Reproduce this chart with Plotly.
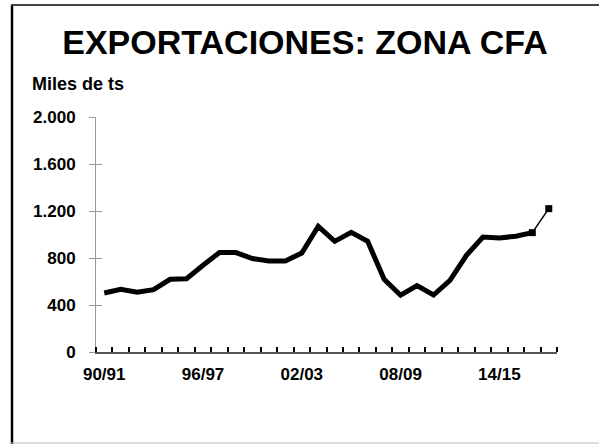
import plotly.graph_objects as go

seasons = ["90/91", "91/92", "92/93", "93/94", "94/95", "95/96", "96/97", "97/98",
           "98/99", "99/00", "00/01", "01/02", "02/03", "03/04", "04/05", "05/06",
           "06/07", "07/08", "08/09", "09/10", "10/11", "11/12", "12/13", "13/14",
           "14/15", "15/16", "16/17", "17/18"]
exports = [502, 534, 508, 531, 619, 624, 738, 846, 846, 795, 775, 775, 843, 1070,
           942, 1019, 942, 619, 483, 565, 485, 610, 823, 979, 970, 985, 1016, 1220]
n_hist = 27  # seasons drawn with the thick line
label_seasons = ["90/91", "96/97", "02/03", "08/09", "14/15"]
y_ticks = [0, 400, 800, 1200, 1600, 2000]

idx = list(range(len(seasons)))
label_idx = [seasons.index(s) for s in label_seasons]

FONT = "Liberation Sans, Arial, sans-serif"
W, H = 599, 445
L, R, T, B = 96, 42, 117, 93
PW, PH = W - L - R, H - T - B

def px(x):
    return (x - L) / PW

def py(y):
    return (H - B - y) / PH

fig = go.Figure()
fig.add_trace(go.Scatter(x=idx[:n_hist], y=exports[:n_hist], mode="lines",
                         line=dict(color="black", width=5), hoverinfo="skip"))
fig.add_trace(go.Scatter(x=idx[n_hist - 1:], y=exports[n_hist - 1:], mode="lines+markers",
                         line=dict(color="black", width=1.5),
                         marker=dict(symbol="square", size=7, color="black"),
                         hoverinfo="skip"))
# overlay axis for inward y ticks (crossing tick look)
fig.add_trace(go.Scatter(x=[0], y=[0], yaxis="y2", mode="markers",
                         marker=dict(opacity=0), hoverinfo="skip"))

fig.update_layout(
    width=W, height=H,
    margin=dict(l=L, r=R, t=T, b=B),
    paper_bgcolor="white", plot_bgcolor="white",
    showlegend=False,
    separators=",.",
    font=dict(family=FONT, color="black"),
    title=dict(text="<b>EXPORTACIONES: ZONA CFA</b>", x=305 / W, xanchor="center",
               y=1 - 42 / H, yanchor="middle", yref="container",
               font=dict(size=34, family=FONT, color="black")),
    xaxis=dict(range=[-0.5, len(seasons) - 0.5], tickmode="array", tickvals=label_idx,
               ticktext=label_seasons, ticks="", showgrid=False, zeroline=False,
               showline=True, linecolor="#555555", linewidth=2,
               tickfont=dict(size=17, family=FONT, color="black", weight="bold"),
               ticklabelstandoff=6,
               minor=dict(tick0=-0.5, dtick=1, ticks="inside", ticklen=5,
                          tickwidth=1.5, tickcolor="black", showgrid=False)),
    yaxis=dict(range=[0, 2000], tickmode="array", tickvals=y_ticks, tickformat=",d",
               ticks="outside", ticklen=6, tickcolor="#999999", tickwidth=1,
               showline=True, linecolor="#999999", linewidth=1, showgrid=False,
               zeroline=False, ticklabelstandoff=10,
               tickfont=dict(size=17, family=FONT, color="black", weight="bold")),
    yaxis2=dict(range=[0, 2000], overlaying="y", side="left", tickmode="array",
                tickvals=y_ticks, showticklabels=False, ticks="inside", ticklen=6,
                tickcolor="#999999", showline=False, showgrid=False, zeroline=False),
    annotations=[dict(text="<b>Miles de ts</b>", x=px(30), y=py(84), xref="paper",
                      yref="paper", xanchor="left", yanchor="middle", showarrow=False,
                      font=dict(size=18, family=FONT, color="black"))],
    shapes=[
        dict(type="line", xref="paper", yref="paper", x0=px(12), x1=px(12),
             y0=py(5), y1=py(444), line=dict(color="black", width=2.5)),
        dict(type="line", xref="paper", yref="paper", x0=px(11), x1=px(605),
             y0=py(5), y1=py(5), line=dict(color="#444444", width=2)),
        dict(type="line", xref="paper", yref="paper", x0=px(11), x1=px(605),
             y0=py(443), y1=py(443), line=dict(color="#bbbbbb", width=1)),
    ],
)

fig.write_html("out.html", config={"displayModeBar": False},
               post_script="document.body.style.margin='0';document.body.style.overflow='hidden';")
